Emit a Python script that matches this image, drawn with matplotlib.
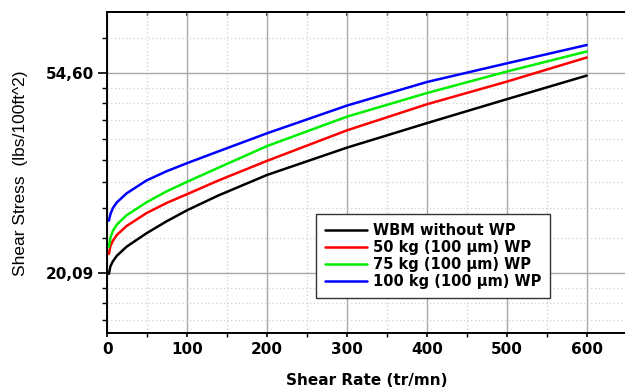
"""
Shear stress vs shear rate for WBM with different WP loadings.
"""

import numpy as np
import matplotlib

matplotlib.use("Agg")
import matplotlib.pyplot as plt
from matplotlib.ticker import FixedLocator, FixedFormatter, NullFormatter

# Data
shear_rate = [2, 4, 7, 12, 24, 49, 74, 100, 139, 200, 300, 400, 500, 600]
wbm = [20.0, 20.8, 21.3, 21.9, 22.9, 24.5, 26.0, 27.5, 29.6, 32.8, 37.6, 42.5, 47.9, 53.9]
wp_50 = [22.1, 23.0, 23.6, 24.3, 25.4, 27.1, 28.5, 29.8, 31.9, 35.2, 41.0, 46.7, 52.3, 59.0]
wp_75 = [22.9, 24.0, 24.8, 25.6, 26.8, 28.6, 30.2, 31.7, 34.0, 37.9, 43.9, 49.4, 55.0, 60.8]
wp_100 = [26.1, 27.0, 27.8, 28.6, 29.9, 31.9, 33.4, 34.8, 36.9, 40.4, 46.4, 52.2, 57.3, 62.8]

labels = [
    "WBM without WP",
    "50 kg (100 µm) WP",
    "75 kg (100 µm) WP",
    "100 kg (100 µm) WP",
]
colors = ["black", "#ff0000", "#00ee00", "#0000ff"]

x_major = [0, 100, 200, 300, 400, 500, 600]
x_minor = [50, 150, 250, 350, 450, 550, 650]
y_major = [np.e ** 3, np.e ** 4]
y_labels = ["20,09", "54,60"]


def log_minor_ticks():
    """Origin style minor ticks: 8 linear steps between powers of e."""
    ticks = []
    for p in range(2, 5):
        lo, hi = np.e ** p, np.e ** (p + 1)
        ticks += [lo + (hi - lo) * k / 9 for k in range(1, 9)]
    return ticks


fig = plt.figure(figsize=(6.25, 3.92), dpi=100)
ax = fig.add_axes([107.3 / 625, 1 - 333.3 / 392, 519.4 / 625, 321 / 392])

for y, lab, c in zip([wbm, wp_50, wp_75, wp_100], labels, colors):
    ax.plot(shear_rate, y, color=c, lw=1.8, label=lab, zorder=3,
            solid_joinstyle="round", solid_capstyle="round")

ax.set_yscale("log", base=np.e)
ax.set_ylim(14.86, 73.96)
ax.set_xlim(0, 650)

ax.xaxis.set_major_locator(FixedLocator(x_major))
ax.xaxis.set_minor_locator(FixedLocator(x_minor))
ax.yaxis.set_major_locator(FixedLocator(y_major))
ax.yaxis.set_major_formatter(FixedFormatter(y_labels))
ax.yaxis.set_minor_locator(FixedLocator(log_minor_ticks()))
ax.yaxis.set_minor_formatter(NullFormatter())

ax.grid(True, which="major", color="#a8a8a8", lw=1.0, ls="-")
ax.grid(True, which="minor", color="#d0d0d0", lw=0.9, ls=(0, (1, 2)))
ax.set_axisbelow(True)

for s in ax.spines.values():
    s.set_linewidth(1.4)
    s.set_color("black")

ax.tick_params(axis="y", which="major", direction="out", length=6.5, width=1.2, pad=3)
ax.tick_params(axis="y", which="minor", direction="out", length=3.5, width=1.0)
ax.tick_params(axis="x", which="major", direction="out", length=3, width=1.2, pad=3)
ax.tick_params(axis="x", which="minor", direction="out", length=3, width=1.0)

for t in ax.get_xticklabels() + ax.get_yticklabels():
    t.set_fontweight("bold")
    t.set_fontsize(11)

top = ax.secondary_xaxis("top")
top.xaxis.set_major_locator(FixedLocator(x_major))
top.xaxis.set_minor_locator(FixedLocator(x_minor))
top.tick_params(which="major", direction="in", length=3, width=1.2, labeltop=False)
top.tick_params(which="minor", direction="in", length=2, width=1.0)
top.spines["top"].set_linewidth(1.4)

ax.set_xlabel("Shear Rate (tr/mn)", fontsize=11, fontweight="bold", labelpad=12)
ax.set_ylabel("Shear Stress  (lbs/100ft^2)", fontsize=12.5,
              family="Liberation Sans", labelpad=13)

leg = ax.legend(
    loc="upper left",
    bbox_to_anchor=(0.402, 0.372),
    prop={"weight": "bold", "size": 10.5},
    frameon=True,
    fancybox=False,
    edgecolor="#333333",
    framealpha=1,
    handlelength=2.9,
    handletextpad=0.4,
    labelspacing=0.15,
    borderpad=0.6,
    borderaxespad=0,
)
leg.get_frame().set_linewidth(1.0)

fig.savefig("out.png", dpi=100)
